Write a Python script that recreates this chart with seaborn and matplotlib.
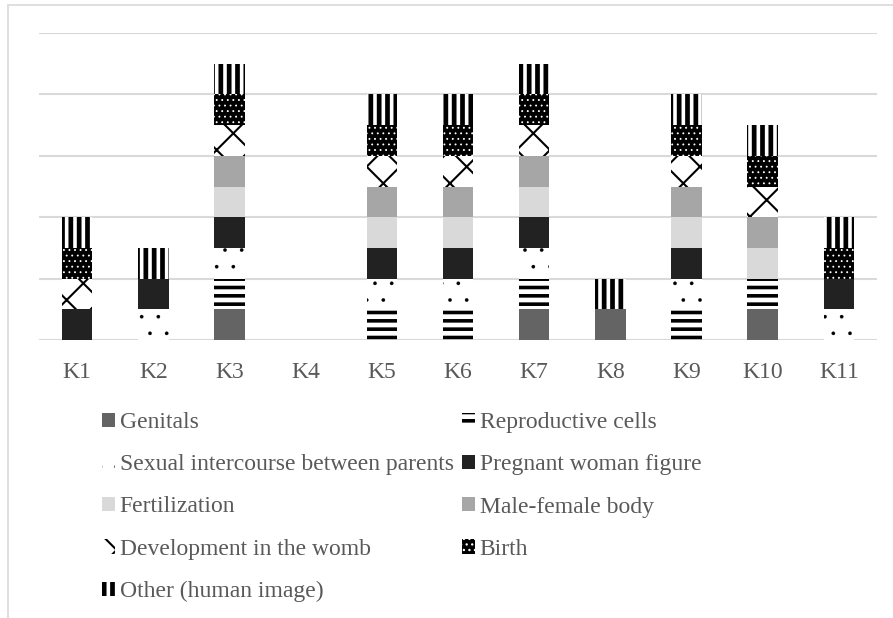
import matplotlib
matplotlib.use("Agg")
import matplotlib as mpl
import matplotlib.pyplot as plt
import matplotlib.patches as mpatches
import pandas as pd
import seaborn as sns

# categories (books / textbooks)
categories = ["K1", "K2", "K3", "K4", "K5", "K6", "K7", "K8", "K9", "K10", "K11"]

# one value per category, stacked bottom -> top
genitals       = [0, 0, 1, 0, 0, 0, 1, 1, 0, 1, 0]
repro_cells    = [0, 0, 1, 0, 1, 1, 1, 0, 1, 1, 0]
intercourse    = [0, 1, 1, 0, 1, 1, 1, 0, 1, 0, 1]
pregnant       = [1, 1, 1, 0, 1, 1, 1, 0, 1, 0, 1]
fertilization  = [0, 0, 1, 0, 1, 1, 1, 0, 1, 1, 0]
male_female    = [0, 0, 1, 0, 1, 1, 1, 0, 1, 1, 0]
development    = [1, 0, 1, 0, 1, 1, 1, 0, 1, 1, 0]
birth          = [1, 0, 1, 0, 1, 1, 1, 0, 1, 1, 1]
other          = [1, 1, 1, 0, 1, 1, 1, 1, 1, 1, 1]

series_names = ["Genitals", "Reproductive cells", "Sexual intercourse between parents",
                "Pregnant woman figure", "Fertilization", "Male-female body",
                "Development in the womb", "Birth", "Other (human image)"]
series_values = [genitals, repro_cells, intercourse, pregnant, fertilization,
                 male_female, development, birth, other]

# (facecolor, hatch colour, hatch, hatch linewidth)
styles = [
    ("#646464", "#646464", None, 1.0),
    ("white", "black", "--", 2.6),
    ("white", "black", ".", 0.2),
    ("#222222", "#222222", None, 1.0),
    ("#d9d9d9", "#d9d9d9", None, 1.0),
    ("#a6a6a6", "#a6a6a6", None, 1.0),
    ("white", "black", "x", 1.5),
    ("black", "white", "...", 0.6),
    ("white", "black", "||", 3.4),
]


def with_hatch_lw(artist, lw):
    # hatch linewidth is taken from rcParams when drawing, so wrap draw
    orig = artist.draw

    def draw(renderer):
        with mpl.rc_context({"hatch.linewidth": lw}):
            orig(renderer)
    artist.draw = draw
    if hasattr(artist, "set_hatch_linewidth"):
        artist.set_hatch_linewidth(lw)


df = pd.DataFrame({"category": categories})
for name, vals in zip(series_names, series_values):
    df[name] = vals

sns.set_style("white")
plt.rcParams["font.family"] = ["Liberation Serif", "DejaVu Serif"]
text_color = "#595959"

fig = plt.figure(figsize=(8.93, 6.18), dpi=100)
ax = fig.add_axes([39 / 893, 1 - 340 / 618, (877 - 39) / 893, (340 - 33) / 618])

bottom = [0] * len(categories)
handles = []
for name, (fc, hc, hatch, hlw) in zip(series_names, styles):
    n_before = len(ax.patches)
    sns.barplot(data=df, x="category", y=name, bottom=bottom, width=0.4,
                color=fc, edgecolor=hc, linewidth=0, hatch=hatch,
                errorbar=None, saturation=1, ax=ax, zorder=3)
    for p in ax.patches[n_before:]:
        p.set_facecolor(fc)
        p.set_edgecolor(hc)
        p.set_linewidth(0)
        with_hatch_lw(p, hlw)
    handles.append(mpatches.Patch(facecolor=fc, edgecolor=hc, hatch=hatch, linewidth=0))
    bottom = [b + v for b, v in zip(bottom, df[name])]

ax.set_ylim(0, 10)
ax.set_yticks([0, 2, 4, 6, 8, 10])
ax.yaxis.grid(True, color="#d9d9d9", linewidth=1.5, zorder=0)
ax.set_axisbelow(True)
ax.set_yticklabels([])
ax.set_xlabel("")
ax.set_ylabel("")
for s in ax.spines.values():
    s.set_visible(False)
ax.tick_params(axis="x", length=0, pad=16, labelsize=17, labelcolor=text_color)
ax.tick_params(axis="y", length=0)

# legend, two columns, row-major order
order = [0, 2, 4, 6, 8, 1, 3, 5, 7]
leg = fig.legend([handles[i] for i in order], [series_names[i] for i in order],
                 ncol=2, loc="upper left", bbox_to_anchor=(102 / 893, 1 - 412 / 618),
                 frameon=False, fontsize=17, handlelength=0.55, handleheight=0.55,
                 handletextpad=0.2, columnspacing=0.35, labelspacing=0.9,
                 borderaxespad=0, borderpad=0)
for t in leg.get_texts():
    t.set_color(text_color)
for h, i in zip(leg.legend_handles, order):
    with_hatch_lw(h, max(styles[i][3], 0.9))

# outer chart border
fig.patches.append(mpatches.Rectangle((8 / 893, -0.1), 1.2, 1 - 5 / 618 + 0.1,
                                      transform=fig.transFigure, fill=False,
                                      edgecolor="#d9d9d9", linewidth=1.2))

fig.savefig("out.png", dpi=100)
